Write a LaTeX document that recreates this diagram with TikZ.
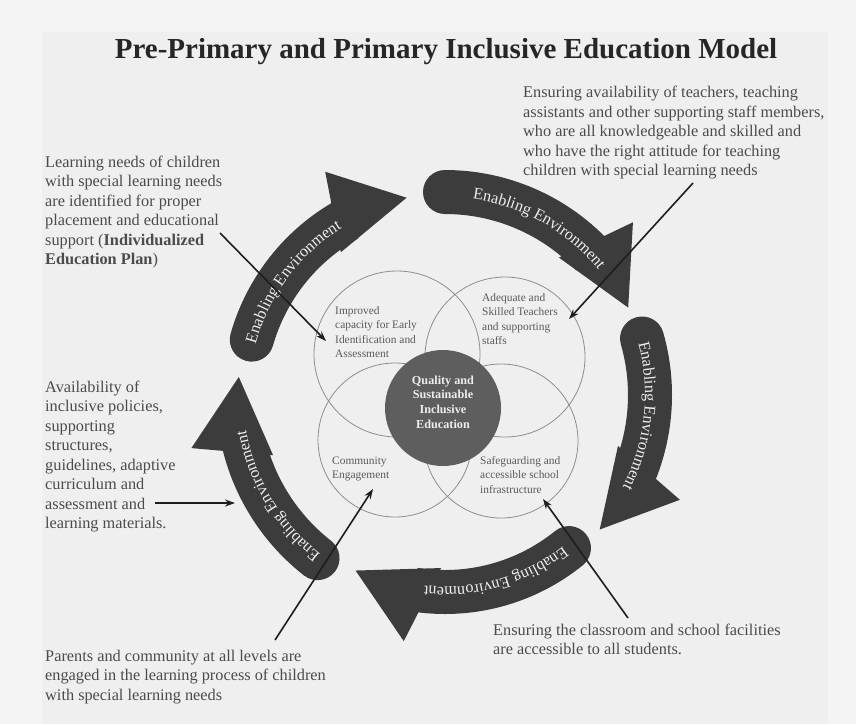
\documentclass[tikz,border=0pt]{standalone}
\usepackage{fontspec}
\setmainfont{Liberation Serif}
\usetikzlibrary{arrows.meta,calc,decorations.text}

\definecolor{pagegrey}{HTML}{F4F4F4}
\definecolor{framegrey}{HTML}{EFEFEF}
\definecolor{bandgrey}{HTML}{3C3C3C}
\definecolor{bandtext}{HTML}{EDEDED}
\definecolor{hubgrey}{HTML}{5E5E5E}
\definecolor{ringgrey}{HTML}{8E8E8E}
\definecolor{notegrey}{HTML}{4B4B4B}
\definecolor{lblgrey}{HTML}{5A5A5A}
\definecolor{titlegrey}{HTML}{262626}
\definecolor{leadgrey}{HTML}{1E1E1E}

\newcommand{\titlefont}{\fontsize{29}{32}\selectfont\bfseries}
\newcommand{\notefont}{\fontsize{16.3}{19.5}\selectfont}
\newcommand{\lblfont}{\fontsize{11.4}{14.5}\selectfont}
\newcommand{\hubfont}{\fontsize{12.2}{14.6}\selectfont\bfseries}
\newcommand{\bandfont}{\fontsize{16.3}{17}\selectfont}

% tail angle, tip angle, text start angle, radius
\newcommand{\enablearrow}[4]{%
  \pgfmathsetmacro{\bandout}{#4+22}\pgfmathsetmacro{\bandin}{#4-22}%
  \pgfmathsetmacro{\bandmid}{#4-5}\pgfmathsetmacro{\headbase}{#2+18}%
  \fill[band] ($(ringc)+(#1:\bandout)$) arc[start angle=#1, end angle=\headbase, radius=\bandout]
    -- ($(ringc)+(\headbase:\bandin)$) arc[start angle=\headbase, end angle=#1, radius=\bandin]
    arc[start angle=#1+180, end angle=#1, radius=22] -- cycle;
  \fill[band] ($(ringc)+(#2:#4)$) -- ($(ringc)+(#2:#4)+(#2+90:75)+(#2:41)$)
    -- ($(ringc)+(#2:#4)+(#2+90:75)+(#2+180:41)$) -- cycle;
  \path[decorate,decoration={text along path,text color=bandtext,
      text={|\bandfont|Enabling Environment}}]
    ($(ringc)+(#3:\bandmid)$) arc[start angle=#3, end angle=#3-60, radius=\bandmid];
}

\begin{document}
\begin{tikzpicture}[x=1pt,y=1pt,
  band/.style={fill=bandgrey},
  venn/.style={circle,draw=ringgrey,line width=0.8pt,inner sep=0pt},
  hub/.style={circle,fill=hubgrey,minimum size=116pt,inner sep=0pt},
  note/.style={anchor=base west,inner sep=0pt,align=left,text=notegrey,font=\notefont},
  lbl/.style={anchor=base west,inner sep=0pt,align=left,text=lblgrey,font=\lblfont},
  leader/.style={line width=1.6pt,draw=leadgrey,-{Stealth[length=10pt,width=7pt]}}]

\useasboundingbox (0,0) rectangle (856,-724);
\fill[pagegrey] (0,0) rectangle (856,-724);
\fill[framegrey] (42,-32) rectangle (828,-724);

\node[anchor=base,inner sep=0pt,font=\titlefont,text=titlegrey] (title) at (446,-58)
  {Pre-Primary and Primary Inclusive Education Model};

\coordinate (ringc) at (445,-395);
\enablearrow{164}{101}{165}{201}
\enablearrow{90}{25.5}{82}{203}
\enablearrow{16}{-41}{15}{205}
\enablearrow{-51}{-117}{-52}{197}
\enablearrow{-128}{-185}{-128}{207}

\node[venn,minimum size=166pt] (idcircle) at (397,-354) {};
\node[venn,minimum size=160pt] (staffcircle) at (505,-357) {};
\node[venn,minimum size=154pt] (commcircle) at (395,-440) {};
\node[venn,minimum size=154pt] (safecircle) at (501,-441) {};
\node[hub] (hubcircle) at (443,-408) {};
\node[align=center,inner sep=0pt,text=bandtext,font=\hubfont] (hubtext) at (443,-402)
  {Quality and\\Sustainable\\Inclusive\\Education};

% base anchors sit on the last line
\node[lbl] (idlabel) at (335,-357.5) {Improved\\capacity for Early\\Identification and\\Assessment};
\node[lbl] (stafflabel) at (482,-344.5) {Adequate and\\Skilled Teachers\\and supporting\\staffs};
\node[lbl] (commlabel) at (332,-478.5) {Community\\Engagement};
\node[lbl] (safelabel) at (480,-493) {Safeguarding and\\accessible school\\infrastructure};

\node[note] (learnnote) at (45,-264.5) {Learning needs of children\\with special learning needs\\are identified for proper\\placement and educational\\support (\textbf{Individualized}\\\textbf{Education Plan})};
\node[note] (staffnote) at (523,-175.5) {Ensuring availability of teachers, teaching\\assistants and other supporting staff members,\\who are all knowledgeable and skilled and\\who have the right attitude for teaching\\children with special learning needs};
\node[note] (policynote) at (45,-528.5) {Availability of\\inclusive policies,\\supporting\\structures,\\guidelines, adaptive\\curriculum and\\assessment and\\learning materials.};
\node[note] (parentnote) at (45,-700) {Parents and community at all levels are\\engaged in the learning process of children\\with special learning needs};
\node[note] (facilnote) at (493,-654.5) {Ensuring the classroom and school facilities\\are accessible to all students.};

\coordinate (learnfrom) at (220,-233);
\coordinate (learnto) at (326,-341);
\coordinate (stafffrom) at (693,-183);
\coordinate (staffto) at (569,-319);
\coordinate (policyfrom) at (155,-503);
\coordinate (policyto) at (235,-503);
\coordinate (parentfrom) at (275,-640);
\coordinate (parentto) at (373,-489);
\coordinate (facilfrom) at (628,-618);
\coordinate (facilto) at (543,-499);

\draw[leader] (learnfrom) -- (learnto);
\draw[leader] (stafffrom) -- (staffto);
\draw[leader] (policyfrom) -- (policyto);
\draw[leader] (parentfrom) -- (parentto);
\draw[leader] (facilfrom) -- (facilto);
\end{tikzpicture}
\end{document}
